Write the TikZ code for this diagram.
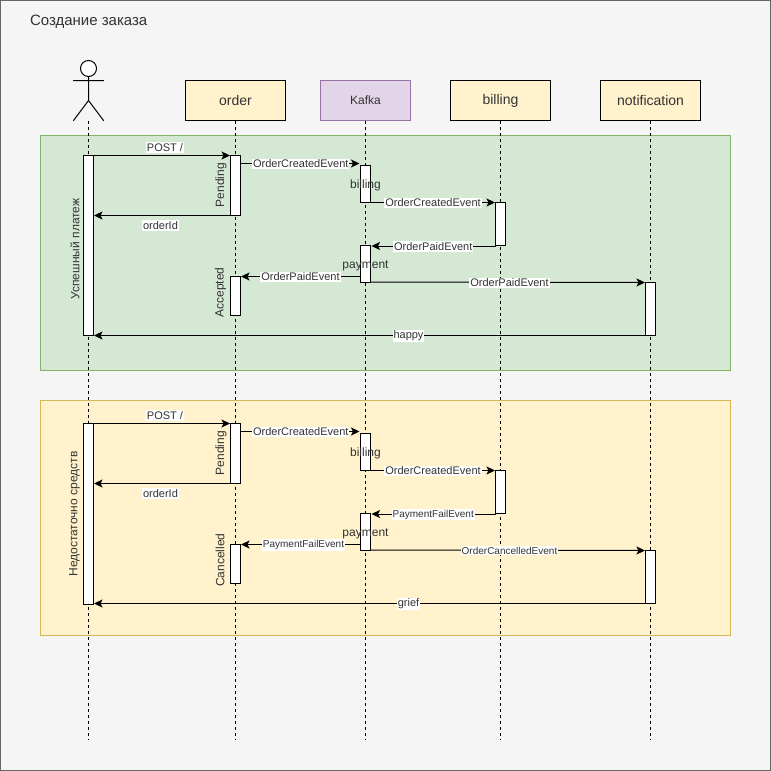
\documentclass[tikz,border=0pt]{standalone}
\usepackage{fontspec}
\setmainfont{Liberation Sans}
\usetikzlibrary{arrows.meta,calc}
\definecolor{pagebg}{HTML}{F5F5F5}
\definecolor{pageln}{HTML}{666666}
\definecolor{greenbg}{HTML}{D5E8D4}
\definecolor{greenln}{HTML}{82B366}
\definecolor{yellowbg}{HTML}{FFF2CC}
\definecolor{yellowln}{HTML}{D6B656}
\definecolor{purplebg}{HTML}{E1D5E7}
\definecolor{purpleln}{HTML}{9673A6}
\definecolor{softtext}{HTML}{333333}
\newcommand{\fpx}[1]{\fontsize{#1pt}{#1pt}\selectfont}
\tikzset{
  x=1pt,y=-1pt,
  every node/.style={inner sep=0pt,outer sep=0pt},
  panel/.style={draw,line width=1pt,minimum width=690pt,minimum height=235pt},
  head/.style={draw=black,fill=yellowbg,line width=1pt,minimum width=100pt,minimum height=40pt,font=\fpx{14},text=softtext},
  lifeline/.style={line width=1pt,dash pattern=on 3pt off 3pt},
  bar/.style={draw=black,fill=white,line width=1pt,minimum width=10pt},
  msg/.style={line width=1pt,-{Stealth[length=8.5pt,width=8pt,inset=2pt]},shorten >=0.5pt},
  lbl/.style={fill=white,inner sep=1pt,font=\fpx{11},text=softtext},
  lblsmall/.style={lbl,font=\fpx{10}},
  vert/.style={rotate=90,font=\fpx{12},text=softtext},
  over/.style={font=\fpx{12},text=softtext},
  figure/.style={line width=1pt,line cap=round}
}
\begin{document}
\begin{tikzpicture}
\useasboundingbox (0,0) rectangle (771,771);
\node[draw=pageln,fill=pagebg,line width=1pt,minimum width=770pt,minimum height=770pt] (page) at (385.5,385.5) {};
\node[anchor=west,font=\fpx{15},text=softtext] (title) at (30,21.5) {Создание заказа};

% panels
\node[panel,draw=greenln,fill=greenbg] (green) at (385.5,253) {};
\node[panel,draw=yellowln,fill=yellowbg] (yellow) at (385.5,518) {};

% heads
\node[head] (order) at (235.5,100.5) {order};
\node[head,draw=purpleln,fill=purplebg,minimum width=90pt,font=\fpx{12}] (kafka) at (365.5,100.5) {Kafka};
\node[head] (billing) at (500.5,100.5) {billing};
\node[head] (notification) at (650.5,100.5) {notification};

% actor
\coordinate (actorfoot) at (88.5,120.5);
\node[draw,circle,line width=1pt,minimum size=16pt,fill=white] (actorhead) at (88.5,68.5) {};
\coordinate (actorhip) at (88.5,100.5);
\coordinate (armL) at (73.5,80.5);
\coordinate (armR) at (103.5,80.5);
\coordinate (legL) at (73.5,120.5);
\coordinate (legR) at (103.5,120.5);
\draw[figure] (actorhead.south) -- (actorhip) (armL) -- (armR) (legL) -- (actorhip) -- (legR);

% lifeline ends
\coordinate (endA) at (88.5,740);
\coordinate (endO) at (235.5,740);
\coordinate (endK) at (365.5,740);
\coordinate (endB) at (500.5,740);
\coordinate (endN) at (650.5,740);
\draw[lifeline] (actorfoot) -- (endA);
\draw[lifeline] (order.south) -- (endO);
\draw[lifeline] (kafka.south) -- (endK);
\draw[lifeline] (billing.south) -- (endB);
\draw[lifeline] (notification.south) -- (endN);

% bars, upper
\node[bar,minimum height=180pt] (a1) at (88.5,245.5) {};
\node[bar,minimum height=60pt] (o1) at (235.5,185.5) {};
\node[bar,minimum height=37pt] (k1) at (365.5,184) {};
\node[bar,minimum height=43pt] (b1) at (500.5,224) {};
\node[bar,minimum height=37pt] (p1) at (365.5,264) {};
\node[bar,minimum height=39pt] (o2) at (235.5,296) {};
\node[bar,minimum height=53pt] (n1) at (650.5,309) {};

% bars, lower
\node[bar,minimum height=181pt] (a2) at (88.5,514) {};
\node[bar,minimum height=60pt] (o3) at (235.5,453.5) {};
\node[bar,minimum height=37pt] (k2) at (365.5,452) {};
\node[bar,minimum height=43pt] (b2) at (500.5,492) {};
\node[bar,minimum height=37pt] (p2) at (365.5,532) {};
\node[bar,minimum height=39pt] (o4) at (235.5,564) {};
\node[bar,minimum height=53pt] (n2) at (650.5,577) {};

% connectors, upper
\coordinate (s1) at (240.5,163.5);
\coordinate (t1) at (360,163.5);
\coordinate (s2) at (495.5,246);
\coordinate (t2) at (371,246);
\coordinate (s3) at (360.5,276.5);
\coordinate (s4) at (370.5,282);
\draw[msg] (a1.north east) -- (o1.north west) node[lbl,midway,xshift=3pt,yshift=8pt] {POST /};
\draw[msg] (s1) -- (t1) node[lbl,midway,xshift=.5pt,yshift=-.5pt] {OrderCreatedEvent};
\draw[msg] (k1.south east) -- (b1.north west) node[lbl,midway,yshift=-.5pt] {OrderCreatedEvent};
\draw[msg] (s2) -- (t2) node[lbl,midway,yshift=-.5pt] {OrderPaidEvent};
\draw[msg] (s3) -- (o2.north east) node[lbl,midway,yshift=-.5pt] {OrderPaidEvent};
\draw[msg] (s4) -- (n1.north west) node[lbl,midway,xshift=1.5pt,yshift=-.5pt] {OrderPaidEvent};
\draw[msg] (o1.south west) -- (a1.east |- o1.south) node[lbl,midway,xshift=-1.5pt,yshift=-10pt] {orderId};
\draw[msg] (n1.south west) -- (a1.south east) node[lbl,midway,xshift=39pt,yshift=-.5pt] {happy};

% connectors, lower
\coordinate (s5) at (240.5,431.5);
\coordinate (t5) at (360,431.5);
\coordinate (s6) at (495.5,514);
\coordinate (t6) at (371,514);
\coordinate (s7) at (360.5,544.5);
\coordinate (s8) at (370.5,550);
\coordinate (s9) at (645.5,603.5);
\coordinate (t9) at (93.5,603.5);
\draw[msg] (a2.north east) -- (o3.north west) node[lbl,midway,xshift=3pt,yshift=8pt] {POST /};
\draw[msg] (s5) -- (t5) node[lbl,midway,xshift=.5pt,yshift=-.5pt] {OrderCreatedEvent};
\draw[msg] (k2.south east) -- (b2.north west) node[lbl,midway,yshift=-.5pt] {OrderCreatedEvent};
\draw[msg] (s6) -- (t6) node[lblsmall,midway,yshift=-.5pt] {PaymentFailEvent};
\draw[msg] (s7) -- (o4.north east) node[lblsmall,midway,xshift=3pt,yshift=-.5pt] {PaymentFailEvent};
\draw[msg] (s8) -- (n2.north west) node[lblsmall,midway,xshift=1.5pt,yshift=-.5pt] {OrderCancelledEvent};
\draw[msg] (o3.south west) -- (a2.east |- o3.south) node[lbl,midway,xshift=-1.5pt,yshift=-10pt] {orderId};
\draw[msg] (s9) -- (t9) node[lbl,midway,xshift=39pt,yshift=-.5pt] {grief};

% bar captions
\node[vert] (capA1) at (75,249) {Успешный платеж};
\node[vert] (capO1) at (221,185) {Pending};
\node[vert] (capO2) at (220.5,292.5) {Accepted};
\node[over] (capK1) at (365.5,185.5) {billing};
\node[over] (capP1) at (365.5,265.5) {payment};
\node[vert] (capA2) at (74.5,514) {Недостаточно средств};
\node[vert] (capO3) at (221,453) {Pending};
\node[vert] (capO4) at (220,560) {Cancelled};
\node[over] (capK2) at (365.5,453.5) {billing};
\node[over] (capP2) at (365.5,533.5) {payment};
\end{tikzpicture}
\end{document}
